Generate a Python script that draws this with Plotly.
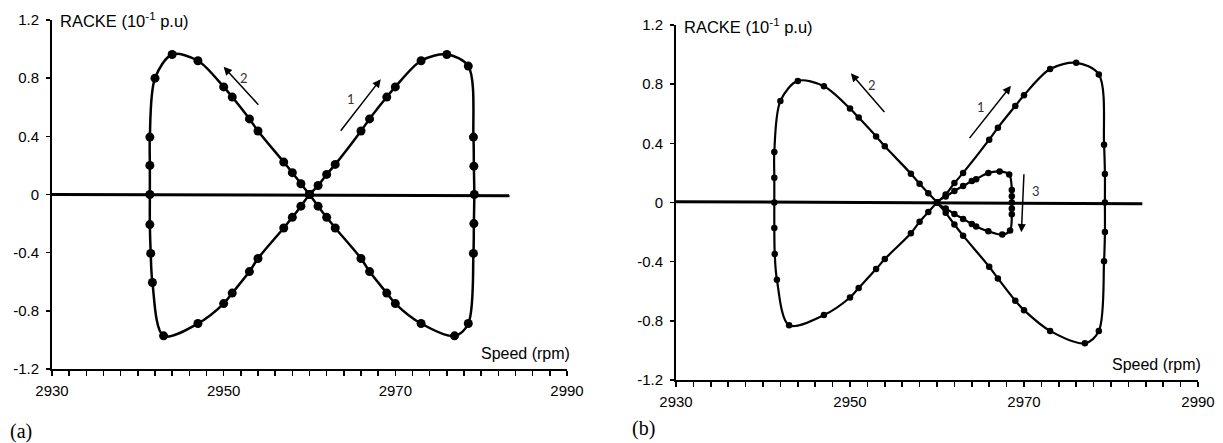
import plotly.graph_objects as go

# ---------------- data ----------------
# Panel (a): main figure-eight trajectory
a_speed = [2960, 2961, 2962, 2963, 2966, 2967, 2969, 2970, 2973, 2976, 2978.5,
           2979.1, 2979.15, 2979.2, 2979.15, 2979.1, 2978.5, 2976.9, 2973, 2970,
           2969, 2967, 2966, 2963, 2962, 2961, 2960, 2959, 2958, 2957, 2954,
           2953, 2951, 2950, 2947, 2944, 2942, 2941.4, 2941.4, 2941.4, 2941.4,
           2941.5, 2941.7, 2943, 2947, 2950, 2951, 2953, 2954, 2957, 2958, 2959, 2960]
a_racke = [0, 0.062, 0.138, 0.207, 0.437, 0.52, 0.67, 0.74, 0.92, 0.963, 0.883,
           0.395, 0.195, 0, -0.2, -0.405, -0.887, -0.972, -0.887, -0.75,
           -0.678, -0.53, -0.44, -0.23, -0.157, -0.08, 0, 0.074, 0.15, 0.223, 0.437,
           0.52, 0.67, 0.74, 0.92, 0.963, 0.8, 0.395, 0.2, 0, -0.207,
           -0.405, -0.605, -0.972, -0.887, -0.75, -0.678, -0.53, -0.44, -0.23, -0.157, -0.08, 0]

# Panel (b): main figure-eight trajectory
b_speed = [2960, 2961, 2962, 2963, 2966, 2967, 2969, 2970, 2973, 2976, 2978.6,
           2979.2, 2979.3, 2979.3, 2979.3, 2979.2, 2978.6, 2977, 2973, 2970,
           2969, 2967, 2966, 2963, 2962, 2961, 2960, 2959, 2958, 2957, 2954,
           2953, 2951, 2950, 2947, 2944, 2942, 2941.3, 2941.3, 2941.3, 2941.3,
           2941.35, 2941.6, 2943, 2947, 2950, 2951, 2953, 2954, 2957, 2958, 2959, 2960]
b_racke = [0, 0.054, 0.131, 0.2, 0.425, 0.506, 0.653, 0.725, 0.902, 0.944, 0.866,
           0.391, 0.192, 0, -0.2, -0.398, -0.868, -0.951, -0.868, -0.728,
           -0.664, -0.513, -0.434, -0.224, -0.149, -0.07, 0, 0.063, 0.127, 0.195, 0.38,
           0.447, 0.574, 0.635, 0.786, 0.822, 0.687, 0.341, 0.167, 0, -0.172,
           -0.348, -0.522, -0.83, -0.761, -0.642, -0.578, -0.45, -0.382, -0.208, -0.13, -0.065, 0]

# Panel (b): small inner loop
loop_speed = [2960, 2961, 2962, 2963, 2964, 2964.5, 2965.9, 2967.2, 2968.3, 2968.6,
              2968.6, 2968.6, 2968.6, 2968.6, 2968.4, 2967.5, 2965.9, 2964.5, 2964,
              2963, 2962, 2961, 2960]
loop_racke = [0, 0.04, 0.078, 0.111, 0.145, 0.158, 0.2, 0.21, 0.19, 0.085,
              0.042, 0.0, -0.04, -0.08, -0.19, -0.217, -0.195, -0.162, -0.145,
              -0.111, -0.077, -0.04, 0]

# Horizontal zero reference lines
a_zero_speed = [2930, 2983.3]
a_zero_racke = [0.0, -0.008]
b_zero_speed = [2930, 2983.6]
b_zero_racke = [0.005, -0.008]

# Axis ticks
x_tickvals = [2930, 2950, 2970, 2990]
x_ticktext = ["2930", "2950", "2970", "2990"]
y_tickvals = [-1.2, -0.8, -0.4, 0, 0.4, 0.8, 1.2]
y_ticktext = ["-1.2", "-0.8", "-0.4", "0", "0.4", "0.8", "1.2"]

# ---------------- figure ----------------
W, H = 1223, 443
FONT = "Liberation Sans, Arial, sans-serif"

fig = go.Figure()

def add_curve(x, y, xa, ya, msize, lw):
    fig.add_trace(go.Scatter(
        x=x, y=y, xaxis=xa, yaxis=ya, mode="lines+markers",
        line=dict(color="black", width=lw, shape="spline", smoothing=0.9),
        marker=dict(color="black", size=msize),
        showlegend=False, hoverinfo="skip"))

def add_zero(x, y, xa, ya):
    fig.add_trace(go.Scatter(
        x=x, y=y, xaxis=xa, yaxis=ya, mode="lines",
        line=dict(color="black", width=3),
        showlegend=False, hoverinfo="skip", cliponaxis=False))

add_zero(a_zero_speed, a_zero_racke, "x", "y")
add_curve(a_speed, a_racke, "x", "y", 9, 2.5)
add_zero(b_zero_speed, b_zero_racke, "x2", "y2")
add_curve(b_speed, b_racke, "x2", "y2", 6.5, 2.2)
add_curve(loop_speed, loop_racke, "x2", "y2", 6.5, 2.2)

def xaxis_def(domain, anchor):
    return dict(domain=domain, anchor=anchor, range=[2930, 2990],
                showline=True, linewidth=2, linecolor="black", mirror=False,
                showgrid=False, zeroline=False, automargin=False,
                ticks="outside", ticklen=5, tickwidth=1.5, tickcolor="black",
                tickvals=x_tickvals, ticktext=x_ticktext,
                minor=dict(tickmode="linear", tick0=2930, dtick=2, ticks="outside",
                           ticklen=5, tickwidth=1.5, tickcolor="black", showgrid=False),
                tickfont=dict(family=FONT, size=15, color="black"),
                ticklabelstandoff=2, fixedrange=True)

def yaxis_def(domain, anchor):
    return dict(domain=domain, anchor=anchor, range=[-1.2, 1.2],
                showline=True, linewidth=2, linecolor="black",
                showgrid=False, zeroline=False, automargin=False,
                ticks="outside", ticklen=4, tickwidth=1.5, tickcolor="black",
                tickvals=y_tickvals, ticktext=y_ticktext,
                tickfont=dict(family=FONT, size=15, color="black"),
                ticklabelstandoff=4, fixedrange=True)

fig.update_layout(
    width=W, height=H,
    margin=dict(l=0, r=0, t=0, b=0, autoexpand=False),
    paper_bgcolor="white", plot_bgcolor="white",
    xaxis=xaxis_def([52 / W, 567 / W], "y"),
    yaxis=yaxis_def([1 - 369 / H, 1 - 20 / H], "x"),
    xaxis2=xaxis_def([676 / W, 1198 / W], "y2"),
    yaxis2=yaxis_def([1 - 380 / H, 1 - 25 / H], "x2"),
)

ann = []
title_txt = "RACKE (10<sup>-1</sup> p.u)"
ann.append(dict(text=title_txt, xref="paper", yref="paper", x=58 / W, y=1 - 20 / H,
                xanchor="left", yanchor="middle", showarrow=False,
                font=dict(family=FONT, size=16.5, color="black")))
ann.append(dict(text=title_txt, xref="paper", yref="paper", x=682 / W, y=1 - 26 / H,
                xanchor="left", yanchor="middle", showarrow=False,
                font=dict(family=FONT, size=16.5, color="black")))
ann.append(dict(text="Speed (rpm)", xref="paper", yref="paper", x=572 / W, y=1 - 353 / H,
                xanchor="right", yanchor="middle", showarrow=False,
                font=dict(family=FONT, size=16, color="black")))
ann.append(dict(text="Speed (rpm)", xref="paper", yref="paper", x=1203 / W, y=1 - 364 / H,
                xanchor="right", yanchor="middle", showarrow=False,
                font=dict(family=FONT, size=16, color="black")))
ann.append(dict(text="(a)", xref="paper", yref="paper", x=8 / W, y=1 - 431 / H,
                xanchor="left", yanchor="middle", showarrow=False,
                font=dict(family="Liberation Serif, Times New Roman, serif", size=20, color="black")))
ann.append(dict(text="(b)", xref="paper", yref="paper", x=630 / W, y=1 - 428 / H,
                xanchor="left", yanchor="middle", showarrow=False,
                font=dict(family="Liberation Serif, Times New Roman, serif", size=20, color="black")))

LBL = dict(family="Lato, Open Sans, sans-serif", size=13, color="#333333")

def arrow(xr, yr, x0, y0, x1, y1):
    ann.append(dict(xref=xr, yref=yr, axref=xr, ayref=yr, x=x1, y=y1, ax=x0, ay=y0,
                    text="", showarrow=True, arrowhead=2, arrowsize=1.1,
                    arrowwidth=1.5, arrowcolor="black", standoff=0, startstandoff=0))

def label(xr, yr, x, y, t):
    ann.append(dict(xref=xr, yref=yr, x=x, y=y, text=t, showarrow=False,
                    xanchor="center", yanchor="middle", font=LBL))

# panel (a) arrows
arrow("x", "y", 2963.5, 0.428, 2968.3, 0.793)
label("x", "y", 2964.85, 0.655, "1")
arrow("x", "y", 2954.2, 0.607, 2950.0, 0.878)
label("x", "y", 2952.4, 0.80, "2")
# panel (b) arrows
arrow("x2", "y2", 2963.6, 0.425, 2968.5, 0.789)
label("x2", "y2", 2965.0, 0.646, "1")
arrow("x2", "y2", 2954.1, 0.601, 2950.1, 0.873)
label("x2", "y2", 2952.5, 0.793, "2")
arrow("x2", "y2", 2970.0, 0.201, 2969.7, -0.201)
label("x2", "y2", 2971.4, 0.081, "3")

fig.update_layout(annotations=ann)

fig.write_html("out.html",
               config={"displayModeBar": False, "staticPlot": True},
               post_script="document.body.style.margin='0';document.body.style.padding='0';")
